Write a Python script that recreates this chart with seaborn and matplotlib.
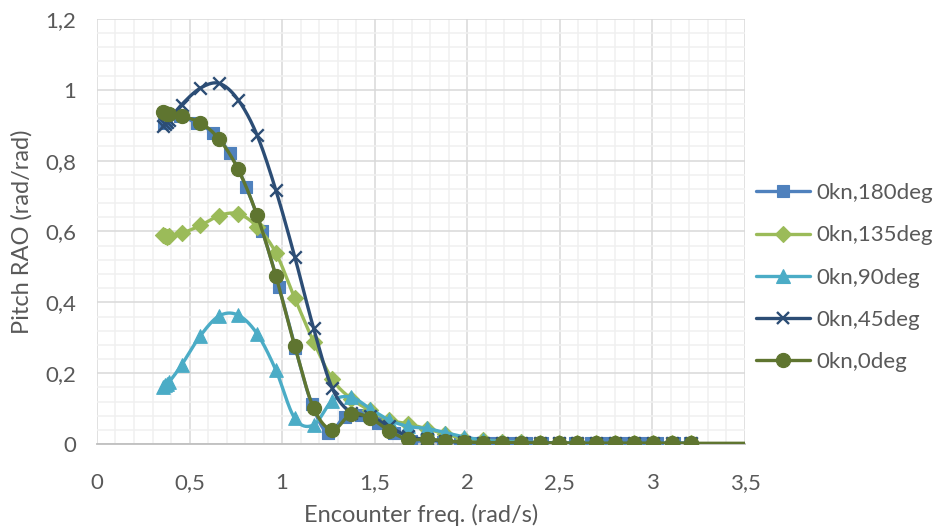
import numpy as np
import pandas as pd
import matplotlib
matplotlib.use("Agg")
import matplotlib.pyplot as plt
from matplotlib.lines import Line2D
from matplotlib.ticker import MultipleLocator, FuncFormatter
import seaborn as sns

# Encounter frequencies (rad/s)
freq = [0.357, 0.368, 0.379, 0.390,
        0.457, 0.559, 0.661, 0.762, 0.864, 0.966, 1.068, 1.170, 1.271, 1.373,
        1.475, 1.577, 1.679, 1.780, 1.882, 1.984, 2.086, 2.188, 2.289, 2.391,
        2.493, 2.595, 2.697, 2.798, 2.900, 3.002, 3.104, 3.206]
freq_180 = [0.362, 0.372, 0.450, 0.539, 0.628, 0.716, 0.805, 0.894, 0.983,
            1.072, 1.160, 1.249, 1.338, 1.427, 1.516, 1.605, 1.694, 1.782,
            1.871, 1.960, 2.049, 2.138, 2.227, 2.316, 2.404, 2.493, 2.582,
            2.671, 2.760, 2.849, 2.938, 3.026, 3.115, 3.204]
freq_0 = freq + [3.5]

# Pitch RAO (rad/rad)
rao_180 = [0.905, 0.910, 0.925, 0.905, 0.878, 0.822, 0.727, 0.600, 0.444,
           0.270, 0.113, 0.031, 0.077, 0.082, 0.058, 0.030, 0.009, 0.009,
           0.007, 0.005, 0.004, 0.004, 0.003, 0.003, 0.003, 0.002, 0.002,
           0.002, 0.002, 0.002, 0.002, 0.002, 0.002, 0.002]
rao_135 = [0.590, 0.586, 0.585, 0.588,
           0.595, 0.617, 0.645, 0.650, 0.614, 0.540, 0.412, 0.289, 0.183, 0.128,
           0.095, 0.068, 0.057, 0.043, 0.028, 0.015, 0.010, 0.007, 0.005, 0.004,
           0.003, 0.003, 0.003, 0.002, 0.002, 0.002, 0.002, 0.002]
rao_90 = [0.162, 0.166, 0.170, 0.175,
          0.223, 0.306, 0.362, 0.364, 0.312, 0.209, 0.073, 0.054, 0.122, 0.132,
          0.100, 0.068, 0.050, 0.044, 0.032, 0.020, 0.011, 0.007, 0.005, 0.004,
          0.003, 0.003, 0.003, 0.002, 0.002, 0.002, 0.002, 0.002]
rao_45 = [0.897, 0.903, 0.909, 0.915,
          0.958, 1.005, 1.018, 0.972, 0.873, 0.717, 0.529, 0.327, 0.157, 0.088,
          0.078, 0.050, 0.022, 0.013, 0.008, 0.005, 0.004, 0.003, 0.003, 0.003,
          0.002, 0.002, 0.002, 0.002, 0.002, 0.002, 0.002, 0.002]
rao_0 = [0.937, 0.935, 0.933, 0.931,
         0.925, 0.907, 0.860, 0.776, 0.647, 0.475, 0.277, 0.102, 0.040, 0.085,
         0.073, 0.038, 0.013, 0.014, 0.009, 0.005, 0.004, 0.004, 0.003, 0.003,
         0.003, 0.002, 0.002, 0.002, 0.002, 0.002, 0.002, 0.002, 0.002]

labels = ["0kn,180deg", "0kn,135deg", "0kn,90deg", "0kn,45deg", "0kn,0deg"]
xticks = [0, 0.5, 1, 1.5, 2, 2.5, 3, 3.5]
yticks = [0, 0.2, 0.4, 0.6, 0.8, 1.0, 1.2]

series = [
    (labels[0], freq_180, rao_180, "#4F81BD", "s", 8.8, len(freq_180)),
    (labels[1], freq, rao_135, "#9BBB59", "D", 8.2, len(freq)),
    (labels[2], freq, rao_90, "#4BACC6", "^", 9.8, len(freq)),
    (labels[3], freq, rao_45, "#2C4D75", "x", 9.0, len(freq)),
    (labels[4], freq_0, rao_0, "#5F7530", "o", 10.2, len(freq)),
]


def smooth_curve(x, y, n=24):
    """Bezier smoothing through the points (control points at 1/6 of neighbour spans)."""
    p = np.column_stack([x, y]).astype(float)
    ext = np.vstack([p[0], p, p[-1]])
    t = np.linspace(0, 1, n, endpoint=False)[:, None]
    out = []
    for i in range(len(p) - 1):
        p0, p1, p2, p3 = ext[i], ext[i + 1], ext[i + 2], ext[i + 3]
        c1 = p1 + (p2 - p0) / 6.0
        c2 = p2 - (p3 - p1) / 6.0
        seg = ((1 - t) ** 3) * p1 + 3 * ((1 - t) ** 2) * t * c1 + 3 * (1 - t) * t ** 2 * c2 + t ** 3 * p2
        out.append(seg)
    out.append(p[-1][None, :])
    out = np.vstack(out)
    return out[:, 0], out[:, 1]


sns.set_style("white")
plt.rcParams["font.family"] = ["Lato", "DejaVu Sans"]
text_color = "#595959"

fig = plt.figure(figsize=(9.36, 5.32), dpi=100)
ax = fig.add_axes([0.1036, 0.1654, 0.6923, 0.7989])

handles = []
for z, (name, xs, ys, color, mk, ms, nmark) in enumerate(series):
    sx, sy = smooth_curve(xs, ys)
    curve = pd.DataFrame({"freq": sx, "rao": sy, "order": np.arange(len(sx))})
    sns.lineplot(data=curve, x="freq", y="rao", sort=False, color=color,
                 linewidth=2.4, ax=ax, zorder=3 + 2 * z, legend=False)
    pts = pd.DataFrame({"freq": xs[:nmark], "rao": ys[:nmark]})
    if mk == "x":
        sns.scatterplot(data=pts, x="freq", y="rao", marker="x", s=ms ** 2,
                        color=color, linewidth=1.7, ax=ax, zorder=4 + 2 * z,
                        legend=False)
    else:
        sns.scatterplot(data=pts, x="freq", y="rao", marker=mk, s=ms ** 2,
                        color=color, edgecolor=color, linewidth=0.8, ax=ax,
                        zorder=4 + 2 * z, legend=False)
    handles.append(Line2D([], [], color=color, linewidth=2.4, marker=mk,
                          markersize=ms, markerfacecolor=color,
                          markeredgecolor=color,
                          markeredgewidth=1.7 if mk == "x" else 0.8,
                          label=name))

ax.set_xlim(0, 3.5)
ax.set_ylim(0, 1.2)
ax.set_xticks(xticks)
ax.set_yticks(yticks)
ax.xaxis.set_minor_locator(MultipleLocator(0.1))
ax.yaxis.set_minor_locator(MultipleLocator(0.04))
comma = FuncFormatter(lambda v, _: f"{v:g}".replace(".", ","))
ax.xaxis.set_major_formatter(comma)
ax.yaxis.set_major_formatter(comma)

ax.grid(which="major", color="#D9D9D9", linewidth=1.1, zorder=0)
ax.grid(which="minor", color="#F0F0F0", linewidth=1.1, zorder=0)
ax.set_axisbelow(True)
for side in ["top", "right", "left"]:
    ax.spines[side].set_visible(False)
ax.spines["bottom"].set_color("#BFBFBF")
ax.spines["bottom"].set_linewidth(1.3)
ax.spines["bottom"].set_zorder(2)
ax.tick_params(which="both", length=0, labelsize=16, colors=text_color)
ax.tick_params(axis="x", pad=21)
ax.tick_params(axis="y", pad=15)

ax.set_xlabel("Encounter freq. (rad/s)", fontsize=17, color=text_color, labelpad=8)
ax.set_ylabel("Pitch RAO (rad/rad)", fontsize=17, color=text_color, labelpad=9)

fig.legend(handles=handles, loc="center left", bbox_to_anchor=(0.808, 0.478),
           frameon=False, fontsize=16, labelcolor=text_color,
           handlelength=2.4, handletextpad=0.3, labelspacing=1.0,
           borderaxespad=0.0, borderpad=0.0)

fig.savefig("out.png", dpi=100)
